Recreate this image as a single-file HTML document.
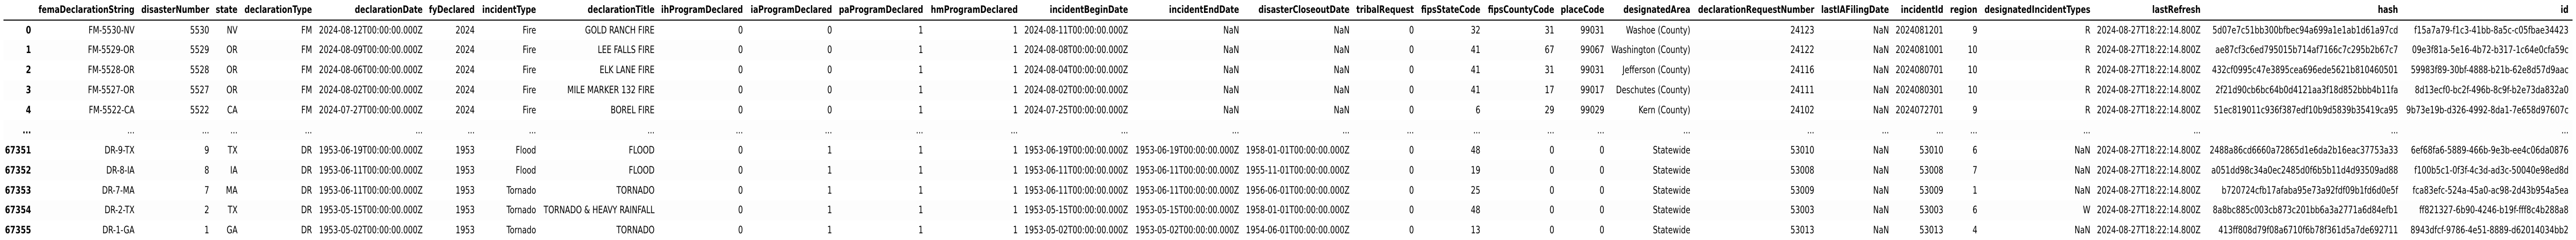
<!DOCTYPE html>
<html lang="en">
<head>
<meta charset="utf-8">
<title>FEMA disaster declarations table</title>
<style>
html,body{margin:0;padding:0;background:#fff;width:100%;height:466px;overflow:hidden}
#frame{position:absolute;left:0;top:0;width:6588px;height:466px;overflow:hidden;background:#fff;transform-origin:0 0}
table{position:absolute;left:9px;top:0;width:6570px;table-layout:fixed;border-collapse:collapse;border-spacing:0;font-family:"DejaVu Sans","Liberation Sans",sans-serif;font-size:19.2px;line-height:22px;color:#000}
th,td{padding:0;text-align:right;white-space:nowrap;vertical-align:middle;overflow:visible}
thead tr{height:39px}
thead th{border-bottom:2px solid #000;font-weight:bold}
tbody tr{height:38.9px}
tbody tr.odd{background:#fdfdfd}
tbody th{font-weight:bold}
tbody tr.final{height:37.5px}
tbody tr.final th,tbody tr.final td{vertical-align:top;padding-top:8px}
th.last,td.last{padding-right:10px}
tbody tr.final td.last{padding-right:10px}
</style>
</head>
<body>
<div id="frame">
<table>
<colgroup>
<col style="width:70.5px"><col style="width:264.5px"><col style="width:191px"><col style="width:72.5px"><col style="width:190.5px"><col style="width:283px"><col style="width:133px"><col style="width:157px"><col style="width:303px"><col style="width:226px"><col style="width:228px"><col style="width:233px"><col style="width:242px"><col style="width:282px"><col style="width:284px"><col style="width:282.5px"><col style="width:164.5px"><col style="width:170px"><col style="width:189px"><col style="width:128px"><col style="width:220px"><col style="width:317px"><col style="width:191px"><col style="width:139px"><col style="width:87px"><col style="width:289px"><col style="width:282px"><col style="width:505px"><col style="width:446px">
</colgroup>
<thead>
<tr>
<th></th>
<th>femaDeclarationString</th>
<th>disasterNumber</th>
<th>state</th>
<th>declarationType</th>
<th>declarationDate</th>
<th>fyDeclared</th>
<th>incidentType</th>
<th>declarationTitle</th>
<th>ihProgramDeclared</th>
<th>iaProgramDeclared</th>
<th>paProgramDeclared</th>
<th>hmProgramDeclared</th>
<th>incidentBeginDate</th>
<th>incidentEndDate</th>
<th>disasterCloseoutDate</th>
<th>tribalRequest</th>
<th>fipsStateCode</th>
<th>fipsCountyCode</th>
<th>placeCode</th>
<th>designatedArea</th>
<th>declarationRequestNumber</th>
<th>lastIAFilingDate</th>
<th>incidentId</th>
<th>region</th>
<th>designatedIncidentTypes</th>
<th>lastRefresh</th>
<th>hash</th>
<th class="last">id</th>
</tr>
</thead>
<tbody>
<tr>
<th>0</th>
<td>FM-5530-NV</td>
<td>5530</td>
<td>NV</td>
<td>FM</td>
<td>2024-08-12T00:00:00.000Z</td>
<td>2024</td>
<td>Fire</td>
<td>GOLD RANCH FIRE</td>
<td>0</td>
<td>0</td>
<td>1</td>
<td>1</td>
<td>2024-08-11T00:00:00.000Z</td>
<td>NaN</td>
<td>NaN</td>
<td>0</td>
<td>32</td>
<td>31</td>
<td>99031</td>
<td>Washoe (County)</td>
<td>24123</td>
<td>NaN</td>
<td>2024081201</td>
<td>9</td>
<td>R</td>
<td>2024-08-27T18:22:14.800Z</td>
<td>5d07e7c51bb300bfbec94a699a1e1ab1d61a97cd</td>
<td class="last">f15a7a79-f1c3-41bb-8a5c-c05fbae34423</td>
</tr>
<tr class="odd">
<th>1</th>
<td>FM-5529-OR</td>
<td>5529</td>
<td>OR</td>
<td>FM</td>
<td>2024-08-09T00:00:00.000Z</td>
<td>2024</td>
<td>Fire</td>
<td>LEE FALLS FIRE</td>
<td>0</td>
<td>0</td>
<td>1</td>
<td>1</td>
<td>2024-08-08T00:00:00.000Z</td>
<td>NaN</td>
<td>NaN</td>
<td>0</td>
<td>41</td>
<td>67</td>
<td>99067</td>
<td>Washington (County)</td>
<td>24122</td>
<td>NaN</td>
<td>2024081001</td>
<td>10</td>
<td>R</td>
<td>2024-08-27T18:22:14.800Z</td>
<td>ae87cf3c6ed795015b714af7166c7c295b2b67c7</td>
<td class="last">09e3f81a-5e16-4b72-b317-1c64e0cfa59c</td>
</tr>
<tr>
<th>2</th>
<td>FM-5528-OR</td>
<td>5528</td>
<td>OR</td>
<td>FM</td>
<td>2024-08-06T00:00:00.000Z</td>
<td>2024</td>
<td>Fire</td>
<td>ELK LANE FIRE</td>
<td>0</td>
<td>0</td>
<td>1</td>
<td>1</td>
<td>2024-08-04T00:00:00.000Z</td>
<td>NaN</td>
<td>NaN</td>
<td>0</td>
<td>41</td>
<td>31</td>
<td>99031</td>
<td>Jefferson (County)</td>
<td>24116</td>
<td>NaN</td>
<td>2024080701</td>
<td>10</td>
<td>R</td>
<td>2024-08-27T18:22:14.800Z</td>
<td>432cf0995c47e3895cea696ede5621b810460501</td>
<td class="last">59983f89-30bf-4888-b21b-62e8d57d9aac</td>
</tr>
<tr class="odd">
<th>3</th>
<td>FM-5527-OR</td>
<td>5527</td>
<td>OR</td>
<td>FM</td>
<td>2024-08-02T00:00:00.000Z</td>
<td>2024</td>
<td>Fire</td>
<td>MILE MARKER 132 FIRE</td>
<td>0</td>
<td>0</td>
<td>1</td>
<td>1</td>
<td>2024-08-02T00:00:00.000Z</td>
<td>NaN</td>
<td>NaN</td>
<td>0</td>
<td>41</td>
<td>17</td>
<td>99017</td>
<td>Deschutes (County)</td>
<td>24111</td>
<td>NaN</td>
<td>2024080301</td>
<td>10</td>
<td>R</td>
<td>2024-08-27T18:22:14.800Z</td>
<td>2f21d90cb6bc64b0d4121aa3f18d852bbb4b11fa</td>
<td class="last">8d13ecf0-bc2f-496b-8c9f-b2e73da832a0</td>
</tr>
<tr>
<th>4</th>
<td>FM-5522-CA</td>
<td>5522</td>
<td>CA</td>
<td>FM</td>
<td>2024-07-27T00:00:00.000Z</td>
<td>2024</td>
<td>Fire</td>
<td>BOREL FIRE</td>
<td>0</td>
<td>0</td>
<td>1</td>
<td>1</td>
<td>2024-07-25T00:00:00.000Z</td>
<td>NaN</td>
<td>NaN</td>
<td>0</td>
<td>6</td>
<td>29</td>
<td>99029</td>
<td>Kern (County)</td>
<td>24102</td>
<td>NaN</td>
<td>2024072701</td>
<td>9</td>
<td>R</td>
<td>2024-08-27T18:22:14.800Z</td>
<td>51ec819011c936f387edf10b9d5839b35419ca95</td>
<td class="last">9b73e19b-d326-4992-8da1-7e658d97607c</td>
</tr>
<tr class="odd">
<th>...</th>
<td>...</td>
<td>...</td>
<td>...</td>
<td>...</td>
<td>...</td>
<td>...</td>
<td>...</td>
<td>...</td>
<td>...</td>
<td>...</td>
<td>...</td>
<td>...</td>
<td>...</td>
<td>...</td>
<td>...</td>
<td>...</td>
<td>...</td>
<td>...</td>
<td>...</td>
<td>...</td>
<td>...</td>
<td>...</td>
<td>...</td>
<td>...</td>
<td>...</td>
<td>...</td>
<td>...</td>
<td class="last">...</td>
</tr>
<tr>
<th>67351</th>
<td>DR-9-TX</td>
<td>9</td>
<td>TX</td>
<td>DR</td>
<td>1953-06-19T00:00:00.000Z</td>
<td>1953</td>
<td>Flood</td>
<td>FLOOD</td>
<td>0</td>
<td>1</td>
<td>1</td>
<td>1</td>
<td>1953-06-19T00:00:00.000Z</td>
<td>1953-06-19T00:00:00.000Z</td>
<td>1958-01-01T00:00:00.000Z</td>
<td>0</td>
<td>48</td>
<td>0</td>
<td>0</td>
<td>Statewide</td>
<td>53010</td>
<td>NaN</td>
<td>53010</td>
<td>6</td>
<td>NaN</td>
<td>2024-08-27T18:22:14.800Z</td>
<td>2488a86cd6660a72865d1e6da2b16eac37753a33</td>
<td class="last">6ef68fa6-5889-466b-9e3b-ee4c06da0876</td>
</tr>
<tr class="odd">
<th>67352</th>
<td>DR-8-IA</td>
<td>8</td>
<td>IA</td>
<td>DR</td>
<td>1953-06-11T00:00:00.000Z</td>
<td>1953</td>
<td>Flood</td>
<td>FLOOD</td>
<td>0</td>
<td>1</td>
<td>1</td>
<td>1</td>
<td>1953-06-11T00:00:00.000Z</td>
<td>1953-06-11T00:00:00.000Z</td>
<td>1955-11-01T00:00:00.000Z</td>
<td>0</td>
<td>19</td>
<td>0</td>
<td>0</td>
<td>Statewide</td>
<td>53008</td>
<td>NaN</td>
<td>53008</td>
<td>7</td>
<td>NaN</td>
<td>2024-08-27T18:22:14.800Z</td>
<td>a051dd98c34a0ec2485d0f6b5b11d4d93509ad88</td>
<td class="last">f100b5c1-0f3f-4c3d-ad3c-50040e98ed8d</td>
</tr>
<tr>
<th>67353</th>
<td>DR-7-MA</td>
<td>7</td>
<td>MA</td>
<td>DR</td>
<td>1953-06-11T00:00:00.000Z</td>
<td>1953</td>
<td>Tornado</td>
<td>TORNADO</td>
<td>0</td>
<td>1</td>
<td>1</td>
<td>1</td>
<td>1953-06-11T00:00:00.000Z</td>
<td>1953-06-11T00:00:00.000Z</td>
<td>1956-06-01T00:00:00.000Z</td>
<td>0</td>
<td>25</td>
<td>0</td>
<td>0</td>
<td>Statewide</td>
<td>53009</td>
<td>NaN</td>
<td>53009</td>
<td>1</td>
<td>NaN</td>
<td>2024-08-27T18:22:14.800Z</td>
<td>b720724cfb17afaba95e73a92fdf09b1fd6d0e5f</td>
<td class="last">fca83efc-524a-45a0-ac98-2d43b954a5ea</td>
</tr>
<tr class="odd">
<th>67354</th>
<td>DR-2-TX</td>
<td>2</td>
<td>TX</td>
<td>DR</td>
<td>1953-05-15T00:00:00.000Z</td>
<td>1953</td>
<td>Tornado</td>
<td>TORNADO &amp; HEAVY RAINFALL</td>
<td>0</td>
<td>1</td>
<td>1</td>
<td>1</td>
<td>1953-05-15T00:00:00.000Z</td>
<td>1953-05-15T00:00:00.000Z</td>
<td>1958-01-01T00:00:00.000Z</td>
<td>0</td>
<td>48</td>
<td>0</td>
<td>0</td>
<td>Statewide</td>
<td>53003</td>
<td>NaN</td>
<td>53003</td>
<td>6</td>
<td>W</td>
<td>2024-08-27T18:22:14.800Z</td>
<td>8a8bc885c003cb873c201bb6a3a2771a6d84efb1</td>
<td class="last">ff821327-6b90-4246-b19f-fff8c4b288a8</td>
</tr>
<tr class="final">
<th>67355</th>
<td>DR-1-GA</td>
<td>1</td>
<td>GA</td>
<td>DR</td>
<td>1953-05-02T00:00:00.000Z</td>
<td>1953</td>
<td>Tornado</td>
<td>TORNADO</td>
<td>0</td>
<td>1</td>
<td>1</td>
<td>1</td>
<td>1953-05-02T00:00:00.000Z</td>
<td>1953-05-02T00:00:00.000Z</td>
<td>1954-06-01T00:00:00.000Z</td>
<td>0</td>
<td>13</td>
<td>0</td>
<td>0</td>
<td>Statewide</td>
<td>53013</td>
<td>NaN</td>
<td>53013</td>
<td>4</td>
<td>NaN</td>
<td>2024-08-27T18:22:14.800Z</td>
<td>413ff808d79f08a6710f6b78f361d5a7de692711</td>
<td class="last">8943dfcf-9786-4e51-8889-d62014034bb2</td>
</tr>
</tbody>
</table>
</div>
<script>
var frame = document.getElementById('frame');
var fit = Math.min(1, window.innerWidth / 6588);
frame.style.transform = 'scaleX(' + fit + ')';
</script>
</body>
</html>
